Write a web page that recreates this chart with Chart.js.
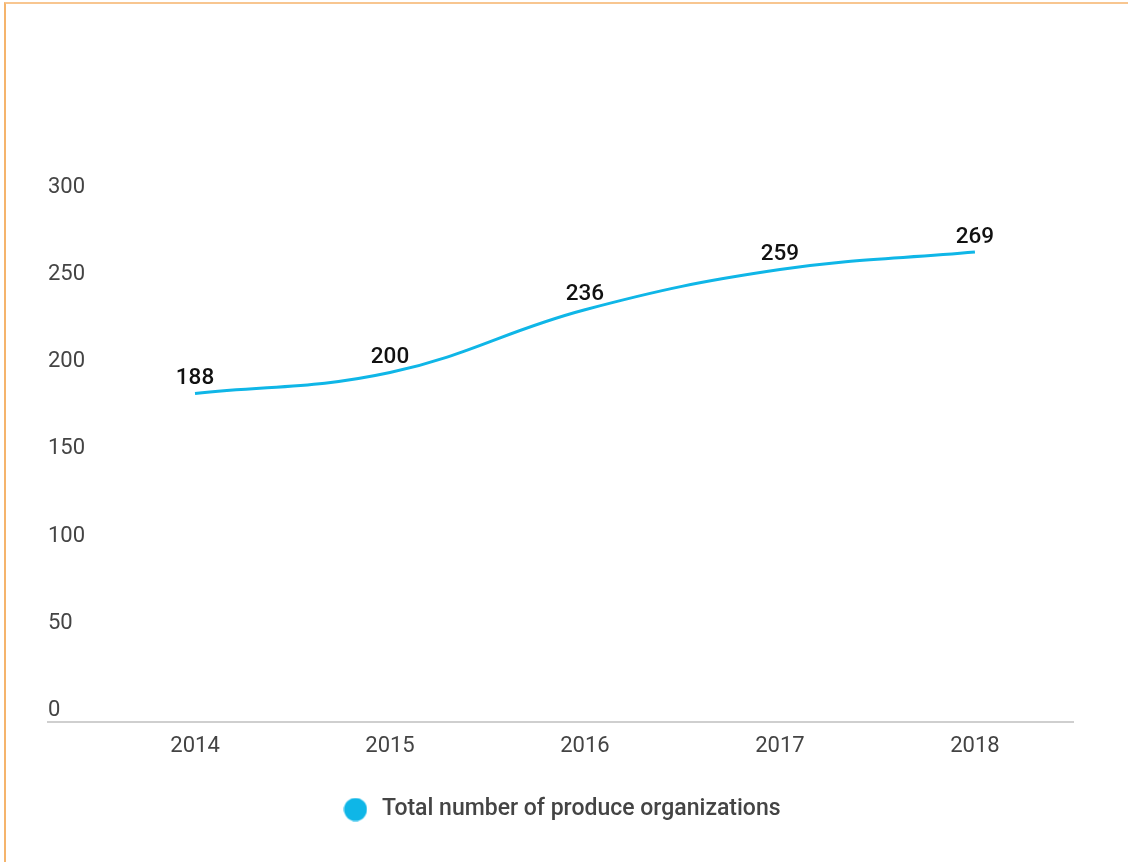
<!DOCTYPE html>
<html>
<head>
<meta charset="utf-8">
<script src="https://cdn.jsdelivr.net/npm/chart.js@4/dist/chart.umd.min.js"></script>
<style>
  html, body { margin: 0; padding: 0; background: #fff; }
  body { width: 1128px; height: 862px; overflow: hidden; position: relative; }
  .frame {
    position: absolute; left: 4px; top: 2px; width: 1200px; height: 900px;
    border-top: 2px solid #f8c690; border-left: 2px solid #f5b46c;
  }
  #wrap { position: absolute; left: 0; top: 0; width: 1128px; height: 862px; }
</style>
</head>
<body>
<div class="frame"></div>
<div id="wrap"><canvas id="chart"></canvas></div>
<script>
  /* ==================== DATA ==================== */

  let years = [2014, 2015, 2016, 2017, 2018];
  let organizations = [188, 200, 236, 259, 269];
  let yTicks = [0, 50, 100, 150, 200, 250, 300];
  let seriesLabel = 'Total number of produce organizations';

  let lineColor = '#0fb6e7';

  /* ==================== LEGEND DOT ==================== */

  let dot = document.createElement('canvas');
  dot.width = 24;
  dot.height = 24;
  let dctx = dot.getContext('2d');
  dctx.fillStyle = lineColor;
  dctx.beginPath();
  dctx.arc(12, 12, 11.5, 0, Math.PI * 2);
  dctx.fill();

  /* ==================== PLUGIN ==================== */

  let valueLabels = {
    id: 'valueLabels',
    afterDatasetsDraw(chart) {
      let { ctx } = chart;
      let meta = chart.getDatasetMeta(0);
      ctx.save();
      ctx.font = '500 22.5px Roboto';
      ctx.fillStyle = '#111';
      ctx.textAlign = 'center';
      ctx.textBaseline = 'middle';
      meta.data.forEach((pt, i) => {
        ctx.fillText(organizations[i], pt.x, pt.y - 15);
      });
      ctx.restore();
    }
  };

  /* ==================== CHART ==================== */

  let ctx = document.getElementById('chart').getContext('2d');

  new Chart(ctx, {
    type: 'line',
    data: {
      datasets: [{
        label: seriesLabel,
        data: years.map((y, i) => ({ x: y, y: organizations[i] })),
        borderColor: lineColor,
        backgroundColor: lineColor,
        borderWidth: 3,
        pointRadius: 0,
        tension: 0.4,
        fill: false
      }]
    },
    options: {
      responsive: true,
      maintainAspectRatio: false,
      animation: false,
      layout: { padding: { left: 48, right: 55, top: 198, bottom: 31 } },
      plugins: {
        legend: {
          position: 'bottom',
          labels: {
            usePointStyle: true,
            pointStyle: dot,
            pointStyleWidth: 30,
            boxHeight: 16,
            padding: 34,
            color: '#444',
            font: { family: 'Roboto', size: 23, weight: '500' }
          }
        },
        tooltip: { enabled: false }
      },
      scales: {
        x: {
          type: 'linear',
          min: 2013.246,
          max: 2018.503,
          afterBuildTicks: scale => { scale.ticks = years.map(v => ({ value: v })); },
          grid: { display: false },
          border: { color: '#cfcfcf', width: 2 },
          ticks: {
            callback: v => String(v),
            color: '#444',
            padding: 4,
            font: { family: 'Roboto', size: 22 }
          }
        },
        y: {
          min: 0,
          max: 300,
          afterBuildTicks: scale => { scale.ticks = yTicks.map(v => ({ value: v })); },
          grid: { display: false, drawTicks: false },
          border: { display: false },
          ticks: {
            mirror: true,
            padding: 0,
            labelOffset: -11,
            color: '#444',
            font: { family: 'Roboto', size: 22 }
          }
        }
      }
    },
    plugins: [valueLabels]
  });
</script>
</body>
</html>
